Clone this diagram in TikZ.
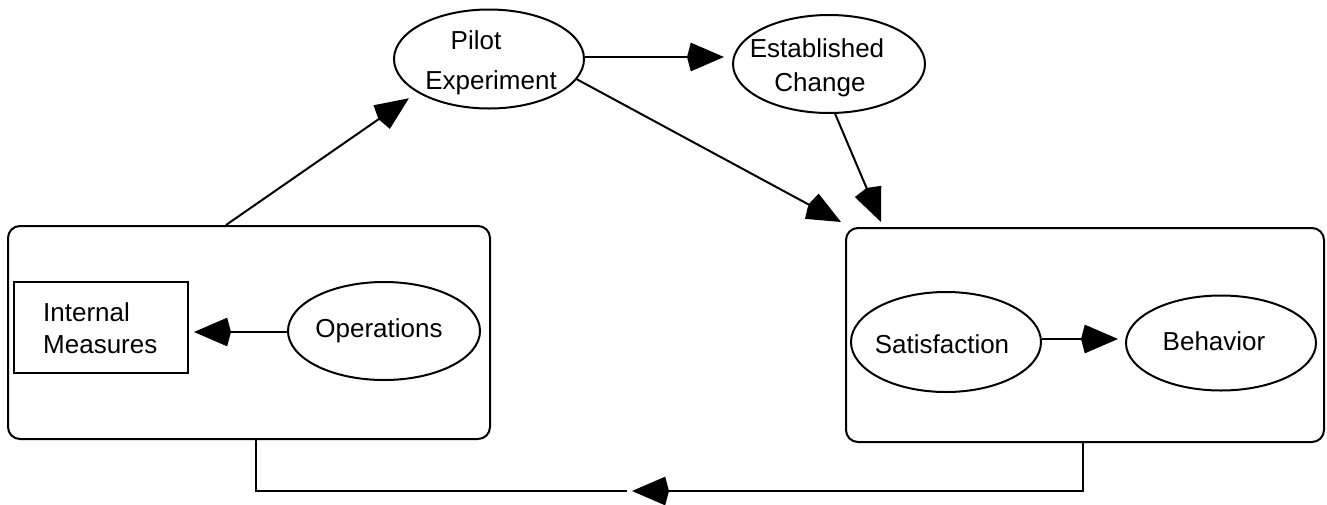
\documentclass[tikz,border=0pt]{standalone}
\usepackage{fontspec}
\setmainfont{Liberation Sans}
\usetikzlibrary{arrows.meta,shapes.geometric,calc}
\begin{document}
\begin{tikzpicture}[x=1pt,y=-1pt,
  every node/.style={font=\fontsize{26}{30}\selectfont},
  oval/.style={draw,ellipse,line width=2pt,inner sep=0pt},
  frame/.style={draw,rounded corners=12pt,line width=2pt,inner sep=0pt},
  plainbox/.style={draw,rectangle,line width=2pt,inner sep=0pt},
  txt/.style={inner sep=0pt,anchor=base},
  conn/.style={line width=2pt},
  arr/.style={line width=2pt,-{Stealth[length=33pt,width=28pt,inset=-4pt]}}]
\useasboundingbox (0,0) rectangle (1327,504);
% frames
\node[frame,minimum width=482pt,minimum height=213pt] (lbox) at (249,332.5) {};
\node[frame,minimum width=478pt,minimum height=214pt] (rbox) at (1085,335) {};
% ellipses and box
\node[oval,minimum width=190pt,minimum height=99pt] (pilot) at (489,59) {};
\node[oval,minimum width=192pt,minimum height=98pt] (est) at (829,64) {};
\node[oval,minimum width=192pt,minimum height=98pt] (ops) at (384,331) {};
\node[oval,minimum width=190pt,minimum height=100pt] (sat) at (946,342) {};
\node[oval,minimum width=190pt,minimum height=95pt] (beh) at (1221,343) {};
\node[plainbox,minimum width=174pt,minimum height=91pt] (im) at (101,327.5) {};
% texts
\node[txt] (tpilot) at (476,49) {Pilot};
\node[txt] (texp) at (491,89) {Experiment};
\node[txt] (testab) at (817,57) {Established};
\node[txt] (tchange) at (820,91) {Change};
\node[txt,anchor=base west] (tint) at (43,321) {Internal};
\node[txt,anchor=base west] (tmeas) at (43,353) {Measures};
\node[txt] (tops) at (379,337) {Operations};
\node[txt] (tsat) at (942,353) {Satisfaction};
\node[txt] (tbeh) at (1214,350) {Behavior};
% connectors
\draw[arr,shorten >=8pt] (pilot.east |- 0,57) -- (est.west |- 0,57);
\draw[arr,shorten >=5pt] (ops.west |- 0,332) -- (im.east |- 0,332);
\draw[arr,shorten >=7pt] (sat.east |- 0,339) -- (beh.west |- 0,339);
\draw[arr] (pilot.-13) -- ([shift={(-4,-5)}]rbox.north west);
\draw[arr] (est.-83) -- ([shift={(36,-5)}]rbox.north west);
\draw[arr,shorten >=10pt] ([xshift=-23pt]lbox.north) -- (pilot.-155);
\coordinate (fbtip) at (632,491);
\coordinate (fbend) at (627,491);
\draw[arr] ([xshift=-2pt]rbox.south) |- (fbtip);
\draw[conn] (fbend) -| ([xshift=7pt]lbox.south);
\end{tikzpicture}
\end{document}
